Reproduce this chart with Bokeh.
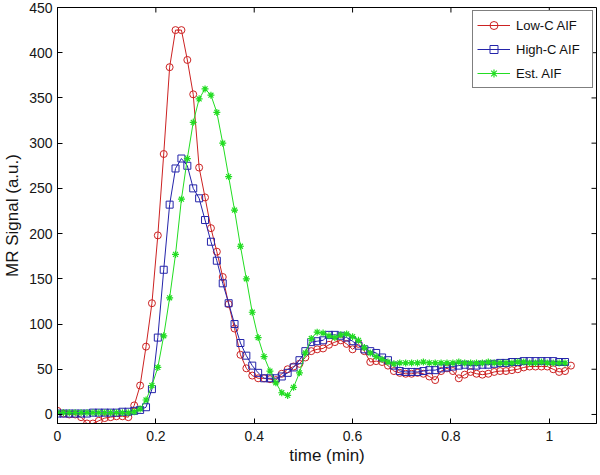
import math
from bokeh.plotting import figure
from bokeh.models import Range1d, FixedTicker, Legend, LegendItem
from bokeh.embed import file_html
from bokeh.resources import INLINE

TIME_MIN = [0.000, 0.012, 0.024, 0.036, 0.048, 0.060, 0.072, 0.084, 0.096, 0.108,
            0.120, 0.132, 0.144, 0.156, 0.168, 0.180, 0.192, 0.204, 0.216, 0.228,
            0.240, 0.252, 0.264, 0.276, 0.288, 0.300, 0.312, 0.324, 0.336, 0.348,
            0.360, 0.372, 0.384, 0.396, 0.408, 0.420, 0.432, 0.444, 0.456, 0.468,
            0.480, 0.492, 0.504, 0.516, 0.528, 0.540, 0.552, 0.564, 0.576, 0.588,
            0.600, 0.612, 0.624, 0.636, 0.648, 0.660, 0.672, 0.684, 0.696, 0.708,
            0.720, 0.732, 0.744, 0.756, 0.768, 0.780, 0.792, 0.804, 0.816, 0.828,
            0.840, 0.852, 0.864, 0.876, 0.888, 0.900, 0.912, 0.924, 0.936, 0.948,
            0.960, 0.972, 0.984, 0.996, 1.008, 1.020, 1.032, 1.044]

LOW_C_AIF = [4, 1, 0, 0, -3, -10, -10, -7, -4, -3,
             -2, -2, -3, 10, 32, 75, 123, 198, 288, 384,
             425, 425, 392, 354, 273, 240, 206, 180, 152, 122,
             95, 66, 51, 43, 40, 40, 39, 38, 45, 50,
             53, 56, 63, 70, 72, 73, 77, 80, 82, 78,
             72, 78, 70, 58, 59, 58, 54, 48, 46, 45,
             45, 46, 45, 42, 38, 48, 51, 48, 40, 44,
             47, 45, 44, 45, 47, 48, 48, 49, 50, 52,
             53, 53, 53, 53, 50, 47, 48, 54]

HIGH_C_AIF = [1, 1, 1, 1, 1, 1, 2, 2, 2, 2,
              2, 3, 3, 4, 5, 8, 28, 85, 160, 232,
              272, 283, 275, 250, 239, 215, 191, 170, 145, 123,
              100, 79, 65, 54, 46, 40, 40, 40, 42, 46,
              52, 60, 70, 80, 81, 82, 88, 88, 87, 85,
              81, 76, 72, 70, 68, 63, 60, 54, 48, 47,
              47, 47, 48, 49, 49, 51, 52, 53, 54, 55,
              54, 54, 55, 55, 56, 57, 57, 58, 58, 59,
              59, 59, 59, 59, 59, 58, 58]

EST_AIF = [2, 2, 2, 2, 2, 2, 2, 2, 2, 2,
           2, 2, 2, 3, 6, 16, 32, 52, 87, 129,
           177, 238, 283, 323, 349, 360, 353, 334, 300, 263,
           226, 186, 150, 113, 85, 64, 48, 35, 24, 21,
           30, 46, 68, 84, 91, 90, 87, 85, 88, 89,
           86, 82, 74, 68, 64, 61, 58, 56, 57, 57,
           57, 57, 58, 57, 57, 57, 57, 57, 58, 57,
           57, 57, 57, 58, 57, 57, 57, 57, 58, 58,
           57, 57, 58, 57, 57, 57, 57]

X_TICKS = [0, 0.2, 0.4, 0.6, 0.8, 1.0]
Y_TICKS = [0, 50, 100, 150, 200, 250, 300, 350, 400, 450]
X_MIN, X_MAX = 0, 1.096
Y_MIN, Y_MAX = -10, 450

RED = "#cc2222"
BLUE = "#2424aa"
GREEN = "#22dd22"
FONT = "Liberation Sans"

p = figure(width=600, height=475, output_backend="svg", toolbar_location=None,
           x_range=Range1d(X_MIN, X_MAX), y_range=Range1d(Y_MIN, Y_MAX),
           min_border_left=57, min_border_right=4, min_border_top=7,
           min_border_bottom=52)
p.background_fill_color = "white"
p.border_fill_color = "white"
p.outline_line_color = "black"
p.outline_line_width = 1
p.xgrid.visible = False
p.ygrid.visible = False

n_lo = len(LOW_C_AIF)
n_hi = len(HIGH_C_AIF)
n_est = len(EST_AIF)

r1 = p.line(TIME_MIN[:n_lo], LOW_C_AIF, line_color=RED, line_width=1)
s1 = p.scatter(TIME_MIN[:n_lo], LOW_C_AIF, marker="circle", size=7,
               line_color=RED, fill_color=None, line_width=1)
r2 = p.line(TIME_MIN[:n_hi], HIGH_C_AIF, line_color=BLUE, line_width=1)
s2 = p.scatter(TIME_MIN[:n_hi], HIGH_C_AIF, marker="square", size=7,
               line_color=BLUE, fill_color=None, line_width=1)
r3 = p.line(TIME_MIN[:n_est], EST_AIF, line_color=GREEN, line_width=1)
s3 = p.scatter(TIME_MIN[:n_est], EST_AIF, marker="asterisk", size=7,
               line_color=GREEN, line_width=1.2)

# inward tick marks on the top and right edges of the box
p.ray(x=X_TICKS, y=[Y_MAX] * len(X_TICKS), length=5, length_units="screen",
      angle=-math.pi / 2, line_color="black", line_width=1)
p.ray(x=[X_MAX] * len(Y_TICKS), y=Y_TICKS, length=5, length_units="screen",
      angle=math.pi, line_color="black", line_width=1)

xa = p.xaxis[0]
xa.ticker = FixedTicker(ticks=X_TICKS)
ya = p.yaxis[0]
ya.ticker = FixedTicker(ticks=Y_TICKS)
xa.axis_label = "time (min)"
ya.axis_label = "MR Signal (a.u.)"
for ax in (xa, ya):
    ax.major_tick_in = 5
    ax.major_tick_out = 0
    ax.minor_tick_line_color = None
    ax.axis_line_color = "black"
    ax.major_tick_line_color = "black"
    ax.major_label_text_font = FONT
    ax.major_label_text_font_size = "14px"
    ax.major_label_text_color = "#151515"
    ax.axis_label_text_font = FONT
    ax.axis_label_text_font_size = "17px"
    ax.axis_label_text_font_style = "normal"
    ax.axis_label_text_color = "#151515"
xa.major_label_standoff = 7
xa.axis_label_standoff = 2
ya.major_label_standoff = 5
ya.axis_label_standoff = 4

legend = Legend(items=[
    LegendItem(label="Low-C AIF", renderers=[r1, s1]),
    LegendItem(label="High-C AIF", renderers=[r2, s2]),
    LegendItem(label="Est. AIF", renderers=[r3, s3]),
], location="top_right")
legend.margin = 3
legend.padding = 4
legend.spacing = 4
legend.label_height = 20
legend.glyph_height = 20
legend.glyph_width = 33
legend.label_standoff = 6
legend.label_width = 72
legend.label_text_font = FONT
legend.label_text_font_size = "13px"
legend.label_text_color = "#111111"
legend.border_line_color = "black"
legend.border_line_width = 1
legend.background_fill_color = "white"
legend.background_fill_alpha = 1
p.add_layout(legend)

open("out.html", "w").write(file_html(p, INLINE))
